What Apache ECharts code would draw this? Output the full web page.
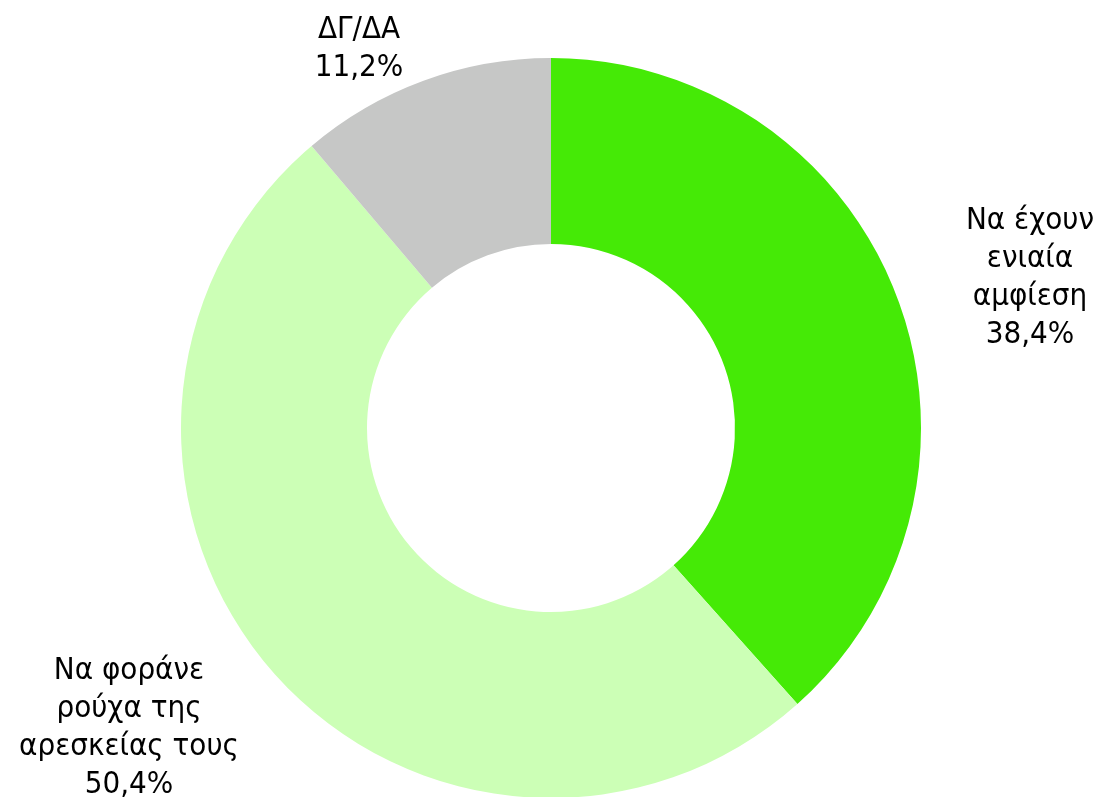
<!DOCTYPE html>
<html>
<head>
<meta charset="utf-8">
<script src="https://cdn.jsdelivr.net/npm/echarts@6/dist/echarts.min.js"></script>
<style>
html,body{margin:0;padding:0;background:#fff;}
#chart{width:1102px;height:797px;}
</style>
</head>
<body>
<div id="chart"></div>
<script>
const categories = ['Να έχουν\nενιαία\nαμφίεση', 'Να φοράνε\nρούχα της\nαρεσκείας τους', 'ΔΓ/ΔΑ'];
const values = [38.4, 50.4, 11.2];
const colors = ['#45EA06', '#CCFFB6', '#C6C7C6'];
const labelPos = [[1030, 278], [129, 728], [359, 49]];

const chart = echarts.init(document.getElementById('chart'), null, {renderer: 'canvas'});
chart.setOption({
  animation: false,
  series: [{
    type: 'pie',
    center: [551, 428],
    radius: [184, 370],
    startAngle: 90,
    clockwise: true,
    avoidLabelOverlap: false,
    data: categories.map((c, i) => ({name: c, value: values[i], itemStyle: {color: colors[i]}})),
    itemStyle: {borderWidth: 0},
    emphasis: {disabled: true},
    label: {
      show: true,
      position: 'outside',
      formatter: p => p.name + '\n' + p.value.toFixed(1).replace('.', ',') + '%',
      fontFamily: '"DejaVu Sans Condensed", "DejaVu Sans", sans-serif',
      fontSize: 31,
      lineHeight: 38,
      color: '#000',
      align: 'center'
    },
    labelLine: {show: false},
    labelLayout: function (params) {
      const p = labelPos[params.dataIndex];
      return {x: p[0], y: p[1], align: 'center', verticalAlign: 'middle'};
    }
  }]
});
</script>
</body>
</html>
